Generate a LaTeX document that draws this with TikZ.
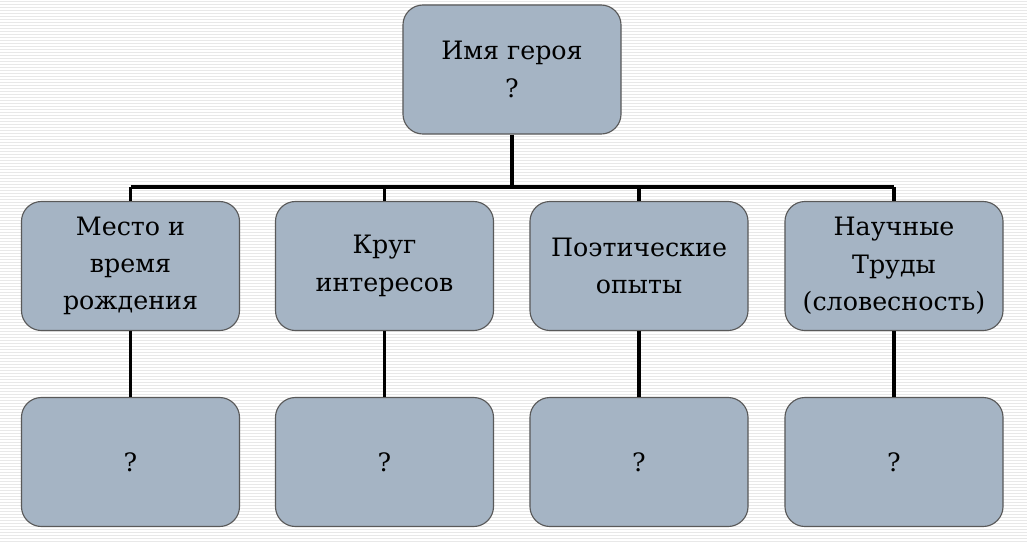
\documentclass[tikz,border=0pt]{standalone}
\usepackage{fontspec}
\setmainfont{DejaVu Serif}
\newfontfamily\herofont{DejaVu Serif}
\definecolor{heroFill}{HTML}{A5B4C4}
\tikzset{
  herobox/.style={draw=black!65, fill=heroFill, rounded corners=0.5cm, align=center,
                  minimum width=5.45cm, minimum height=3.225cm, inner sep=2pt,
                  font=\herofont\fontsize{18}{26.5}\selectfont, line width=0.8pt},
  herolink/.style={line width=2.2pt, draw=black},
  herostripe/.style={draw=black!9, line width=0.6pt},
}

\begin{document}
\begin{tikzpicture}[x=0.025cm, y=-0.025cm]
  \useasboundingbox (0,0) rectangle (1027,541);
  % striped background
  \fill[white] (0,0) rectangle (1027,541);
  \foreach \i in {1,4,...,541}
    \draw[herostripe] (0,\i) -- (1027,\i);

  \node[herobox] (hero) at (512,69.5) {Имя героя\\?};

  \node[herobox] (place)  at (130.5,266) {Место и\\время\\рождения};
  \node[herobox] (circle) at (384.5,266) {Круг\\интересов};
  \node[herobox] (poetry) at (639,266)   {Поэтические\\опыты};
  \node[herobox] (works)  at (894,266)   {Научные\\Труды\\(словесность)};

  \node[herobox] (qplace)  at (130.5,462) {?};
  \node[herobox] (qcircle) at (384.5,462) {?};
  \node[herobox] (qpoetry) at (639,462)   {?};
  \node[herobox] (qworks)  at (894,462)   {?};

  \coordinate (bar) at (512,187);

  \draw[herolink] (hero.south) -- (bar);
  \draw[herolink] (place.north |- bar) -- (works.north |- bar);
  \foreach \a/\b in {place/qplace, circle/qcircle, poetry/qpoetry, works/qworks} {
    \draw[herolink] (\a.north |- bar) -- (\a.north);
    \draw[herolink] (\a.south) -- (\b.north);
  }
\end{tikzpicture}
\end{document}
